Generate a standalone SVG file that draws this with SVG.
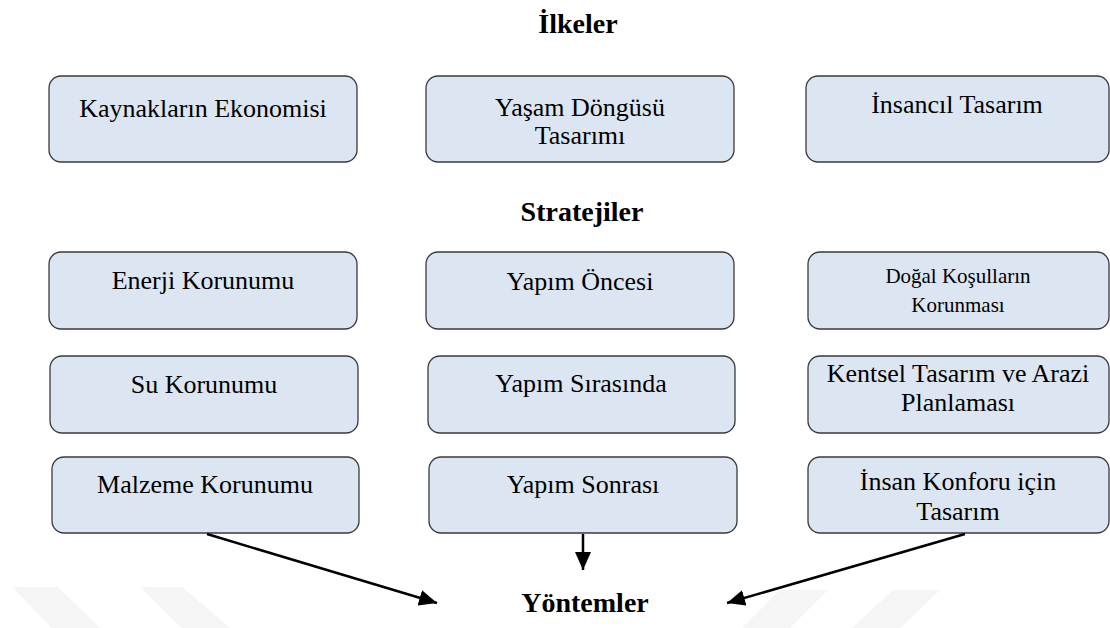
<svg xmlns="http://www.w3.org/2000/svg" width="1110" height="628" viewBox="0 0 1110 628">
<defs>
<style>
.box{fill:#dce6f2;stroke:#3a3a3a;stroke-width:1.3}
.t{font-size:26px;fill:#000;text-anchor:middle}
.ts{font-size:21px}
.h{font-size:28px;font-weight:bold;fill:#000;text-anchor:middle}
.edge{stroke:#000;stroke-width:2.5;fill:none}
.wm{fill:#f5f5f5}
</style>
<marker id="ah" markerUnits="userSpaceOnUse" markerWidth="20" markerHeight="16" refX="18" refY="8" orient="auto">
<path d="M0,0 L18,8 L0,16 Z" fill="#000"/>
</marker>
</defs>
<rect width="1110" height="628" fill="#fff"/>
<g id="watermark">
<polygon class="wm" points="12,587 58,587 100,628 52,628"/>
<polygon class="wm" points="140,587 182,587 230,628 182,628"/>
<polygon class="wm" points="780,590 828,590 790,628 742,628"/>
<polygon class="wm" points="893,590 940,590 900,628 852,628"/>
</g>
<g font-family="Liberation Serif, Times New Roman, Times, serif">
<g id="titles">
<text class="h" x="578" y="33">İlkeler</text>
<text class="h" x="582" y="221">Stratejiler</text>
<text class="h" x="585" y="612">Yöntemler</text>
</g>
<g id="n1"><rect class="box" x="49" y="76" width="308" height="86" rx="12"/><text class="t" x="203" y="117">Kaynakların Ekonomisi</text></g>
<g id="n2"><rect class="box" x="426" y="76" width="308" height="86" rx="12"/><text class="t" x="580" y="116">Yaşam Döngüsü</text><text class="t" x="580" y="144">Tasarımı</text></g>
<g id="n3"><rect class="box" x="806" y="76" width="303" height="86" rx="12"/><text class="t" x="957" y="113">İnsancıl Tasarım</text></g>
<g id="n4"><rect class="box" x="49" y="252" width="308" height="77" rx="12"/><text class="t" x="203" y="289">Enerji Korunumu</text></g>
<g id="n5"><rect class="box" x="426" y="252" width="308" height="77" rx="12"/><text class="t" x="580" y="290">Yapım Öncesi</text></g>
<g id="n6"><rect class="box" x="808" y="252" width="301" height="77" rx="12"/><text class="t ts" x="958" y="283">Doğal Koşulların</text><text class="t ts" x="958" y="312">Korunması</text></g>
<g id="n7"><rect class="box" x="50" y="356" width="308" height="77" rx="12"/><text class="t" x="204" y="393">Su Korunumu</text></g>
<g id="n8"><rect class="box" x="428" y="356" width="307" height="77" rx="12"/><text class="t" x="581" y="392">Yapım Sırasında</text></g>
<g id="n9"><rect class="box" x="808" y="356" width="301" height="77" rx="12"/><text class="t" x="958" y="382">Kentsel Tasarım ve Arazi</text><text class="t" x="958" y="411">Planlaması</text></g>
<g id="n10"><rect class="box" x="52" y="457" width="307" height="76" rx="12"/><text class="t" x="205" y="493">Malzeme Korunumu</text></g>
<g id="n11"><rect class="box" x="429" y="457" width="308" height="76" rx="12"/><text class="t" x="583" y="493">Yapım Sonrası</text></g>
<g id="n12"><rect class="box" x="808" y="457" width="301" height="76" rx="12"/><text class="t" x="958" y="490">İnsan Konforu için</text><text class="t" x="958" y="520">Tasarım</text></g>
</g>
<g id="connectors">
<line class="edge" x1="207" y1="534" x2="437" y2="603" marker-end="url(#ah)"/>
<line class="edge" x1="583" y1="534" x2="583" y2="570" marker-end="url(#ah)"/>
<line class="edge" x1="965" y1="534" x2="727" y2="603" marker-end="url(#ah)"/>
</g>
</svg>
